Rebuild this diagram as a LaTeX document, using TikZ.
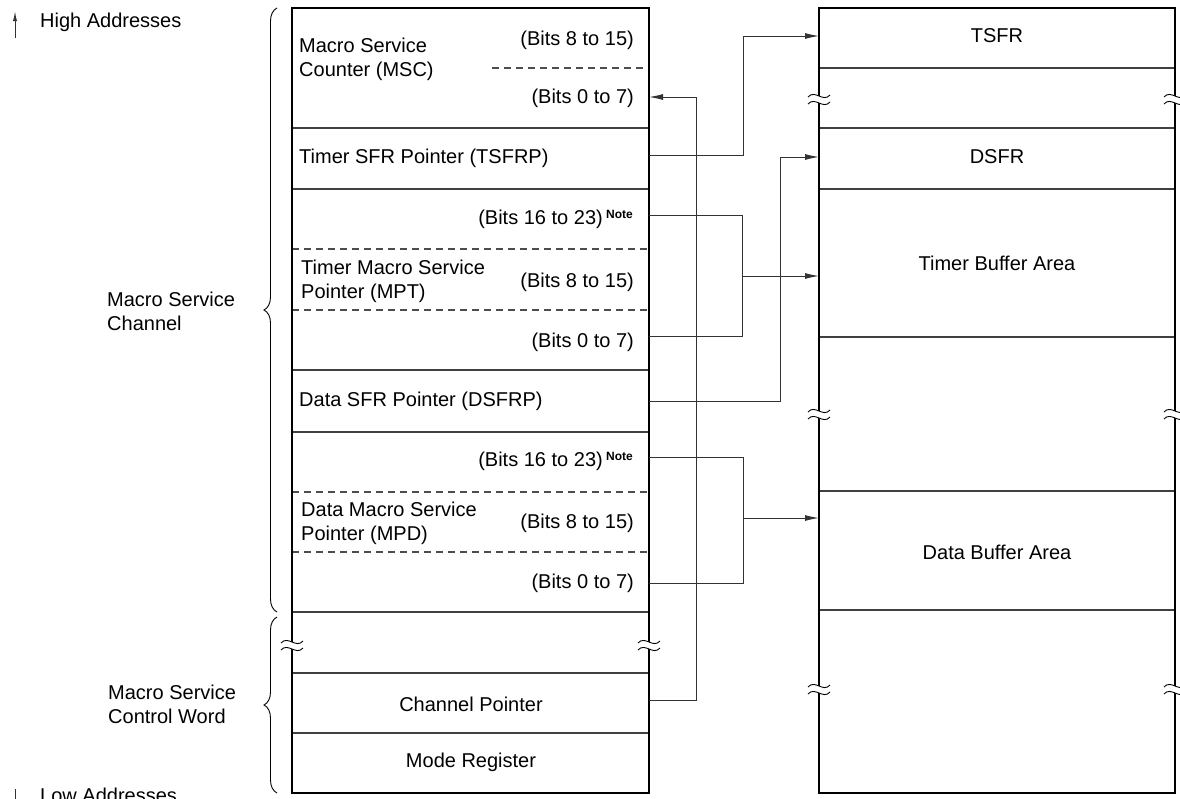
\documentclass[tikz,border=0pt]{standalone}
\usepackage{fontspec}
\setmainfont{Liberation Sans}
\usetikzlibrary{arrows.meta,decorations.pathreplacing}
\begin{document}
\begin{tikzpicture}[x=1pt,y=-1pt,
  box/.style={line width=2.8pt},
  sep/.style={line width=1.1pt,draw=black!75},
  dsep/.style={line width=1.1pt,draw=black!70,dash pattern=on 7pt off 5pt},
  conn/.style={line width=1pt,draw=black!80},
  arr/.style={conn,-{Latex[length=14pt,width=6pt]}},
  txt/.style={inner sep=0pt,font=\fontsize{20}{24}\selectfont},
  ltxt/.style={txt,anchor=west,align=left},
  rtxt/.style={txt,anchor=east},
  ctxt/.style={txt,anchor=center},
  brace/.style={decorate,decoration={brace,amplitude=13pt},line width=0.9pt},
  brk/.pic={
    \fill[white] (-11,0) .. controls (-4,-8) and (4,6) .. (11,-2) -- (11,5) .. controls (4,13) and (-4,-1) .. (-11,7) -- cycle;
    \draw[line width=0.9pt] (-11,0) .. controls (-4,-8) and (4,6) .. (11,-2);
    \draw[line width=0.9pt] (-11,7) .. controls (-4,-1) and (4,13) .. (11,5);
  }]
\newcommand{\notemark}{\,\raisebox{6pt}{\fontsize{12}{12}\selectfont\bfseries Note}}
\useasboundingbox (0,0) rectangle (1180,798);
\clip (0,0) rectangle (1180,798);

% ---------- left box ----------
\foreach \y in {128,189,370,432,612,673,733} \draw[sep] (292,\y) -- (649,\y);
\draw[dsep] (492,68) -- (649,68);
\foreach \y in {249,310,492,552} \draw[dsep] (292,\y) -- (649,\y);
\draw[box] (292,8) rectangle (649,793);

% ---------- right box ----------
\foreach \y in {68,128,189,337,491,610} \draw[sep] (819,\y) -- (1175,\y);
\draw[box] (819,8) rectangle (1175,793);

% break marks
\pic at (292,643) {brk};
\pic at (649,643) {brk};
\foreach \y in {97,412,687} {\pic at (819,\y) {brk}; \pic at (1175,\y) {brk};}

% ---------- texts left ----------
\node[ltxt] (msc) at (299,59) {Macro Service\\Counter (MSC)};
\node[rtxt] (msch) at (634,40) {(Bits 8 to 15)};
\node[rtxt] (mscl) at (634,98) {(Bits 0 to 7)};
\node[ltxt] (tsfrp) at (299,158) {Timer SFR Pointer (TSFRP)};
\node[rtxt] (mpth) at (633,219) {(Bits 16 to 23)\notemark};
\node[ltxt] (mpt) at (301,281) {Timer Macro Service\\Pointer (MPT)};
\node[rtxt] (mptm) at (634,282) {(Bits 8 to 15)};
\node[rtxt] (mptl) at (634,342) {(Bits 0 to 7)};
\node[ltxt] (dsfrp) at (299,401) {Data SFR Pointer (DSFRP)};
\node[rtxt] (mpdh) at (633,461) {(Bits 16 to 23)\notemark};
\node[ltxt] (mpd) at (301,523) {Data Macro Service\\Pointer (MPD)};
\node[rtxt] (mpdm) at (634,523) {(Bits 8 to 15)};
\node[rtxt] (mpdl) at (634,583) {(Bits 0 to 7)};
\node[ctxt] (cp) at (471,704) {Channel Pointer};
\node[ctxt] (mr) at (471,762) {Mode Register};

% ---------- texts right ----------
\node[ctxt] (tsfr) at (997,36) {TSFR};
\node[ctxt] (dsfr) at (997,157) {DSFR};
\node[ctxt] (tba) at (997,263) {Timer Buffer Area};
\node[ctxt] (dba) at (997,552) {Data Buffer Area};

% ---------- side labels ----------
\node[ltxt] (high) at (40,22) {High Addresses};
\node[ltxt,anchor=base west] (low) at (40,802) {Low Addresses};
\draw[conn,-{Latex[length=10pt,width=4pt]}] (15,38) -- (15,11);
\draw[conn,-{Latex[length=10pt,width=4pt]}] (15,789) -- (15,815);
\draw[brace] (277,612) -- (277,8);
\draw[brace] (277,793) -- (277,617);
\node[ltxt] (msch2) at (107,311) {Macro Service\\Channel};
\node[ltxt] (mscw) at (108,704) {Macro Service\\Control Word};

% ---------- connection points ----------
\coordinate (cpL) at (649,700);
\coordinate (msclR) at (649,97);
\coordinate (tsfrpR) at (649,155);
\coordinate (tsfrL) at (819,36);
\coordinate (dsfrpR) at (649,401);
\coordinate (dsfrL) at (819,157);
\coordinate (mpthR) at (649,215);
\coordinate (mptlR) at (649,336);
\coordinate (mptJ) at (742,276);
\coordinate (tbaL) at (819,276);
\coordinate (mpdhR) at (649,457);
\coordinate (mpdlR) at (649,583);
\coordinate (mpdJ) at (743,518);
\coordinate (dbaL) at (819,518);

% ---------- connectors ----------
\draw[arr] (cpL) -- (696,700) -- (696,97) -- (msclR);
\draw[arr] (tsfrpR) -- (743,155) -- (743,36) -- (tsfrL);
\draw[arr] (dsfrpR) -- (780,401) -- (780,157) -- (dsfrL);
\draw[conn] (mpthR) -- (742,215) -- (742,336) -- (mptlR);
\draw[arr] (mptJ) -- (tbaL);
\draw[conn] (mpdhR) -- (743,457) -- (743,583) -- (mpdlR);
\draw[arr] (mpdJ) -- (dbaL);
\end{tikzpicture}
\end{document}
